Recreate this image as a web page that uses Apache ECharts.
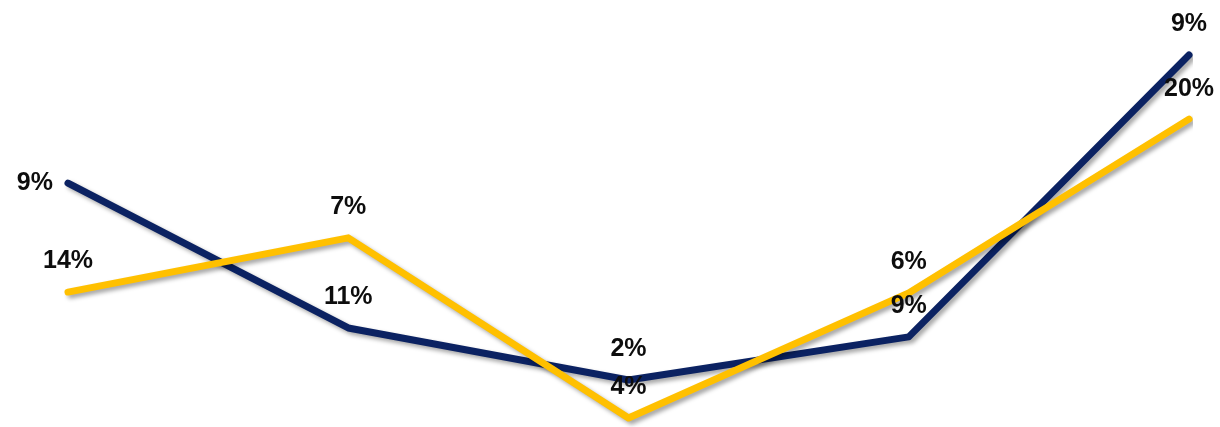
<!DOCTYPE html>
<html>
<head>
<meta charset="utf-8">
<script src="https://cdn.jsdelivr.net/npm/echarts@6/dist/echarts.min.js"></script>
<style>
  html, body { margin: 0; padding: 0; background: #fff; }
  #chart { width: 1220px; height: 427px; }
</style>
</head>
<body>
<div id="chart"></div>
<script>
// Five periods along the horizontal axis
const categories = ['P1', 'P2', 'P3', 'P4', 'P5'];

// Line heights on a 0–100 index scale
const navyIndex = [57.1, 23.2, 11.0, 21.1, 87.1];
const goldIndex = [31.6, 44.3, 2.1, 31.4, 72.1];

// Percentage annotations shown above each point
const navyLabels = ['9%', '11%', '2%', '9%', '9%'];
const goldLabels = ['14%', '7%', '4%', '6%', '20%'];

const NAVY = '#0B2262';
const GOLD = '#FFC000';

const labelBase = {
  show: true,
  position: 'top',
  distance: 17,
  fontFamily: 'Liberation Sans, Arial, sans-serif',
  fontWeight: 'bold',
  fontSize: 25,
  lineHeight: 25,
  color: '#0d0d0d'
};

function lineSeries(name, values, labels, color, firstLeft) {
  return {
    name: name,
    type: 'line',
    data: values.map((v, i) => {
      const item = { value: v };
      if (firstLeft && i === 0) {
        item.label = { position: 'left', distance: 14 };
      }
      return item;
    }),
    symbol: 'circle',
    symbolSize: 2,
    showSymbol: true,
    itemStyle: { color: 'rgba(0,0,0,0)', borderWidth: 0 },
    label: Object.assign({}, labelBase, {
      formatter: p => labels[p.dataIndex]
    }),
    lineStyle: {
      color: color,
      width: 7,
      cap: 'round',
      join: 'round',
      shadowColor: 'rgba(0,0,0,0.35)',
      shadowBlur: 4,
      shadowOffsetX: 3,
      shadowOffsetY: 3
    },
    emphasis: { disabled: true },
    animation: false
  };
}

const chart = echarts.init(document.getElementById('chart'), null, { renderer: 'canvas' });
chart.setOption({
  backgroundColor: '#ffffff',
  grid: { left: 68, right: 31, top: 0, bottom: 0 },
  xAxis: {
    type: 'category',
    data: categories,
    boundaryGap: false,
    show: false
  },
  yAxis: {
    type: 'value',
    min: 0,
    max: 100,
    show: false
  },
  series: [
    lineSeries('Navy', navyIndex, navyLabels, NAVY, true),
    lineSeries('Gold', goldIndex, goldLabels, GOLD, false)
  ]
});
</script>
</body>
</html>
